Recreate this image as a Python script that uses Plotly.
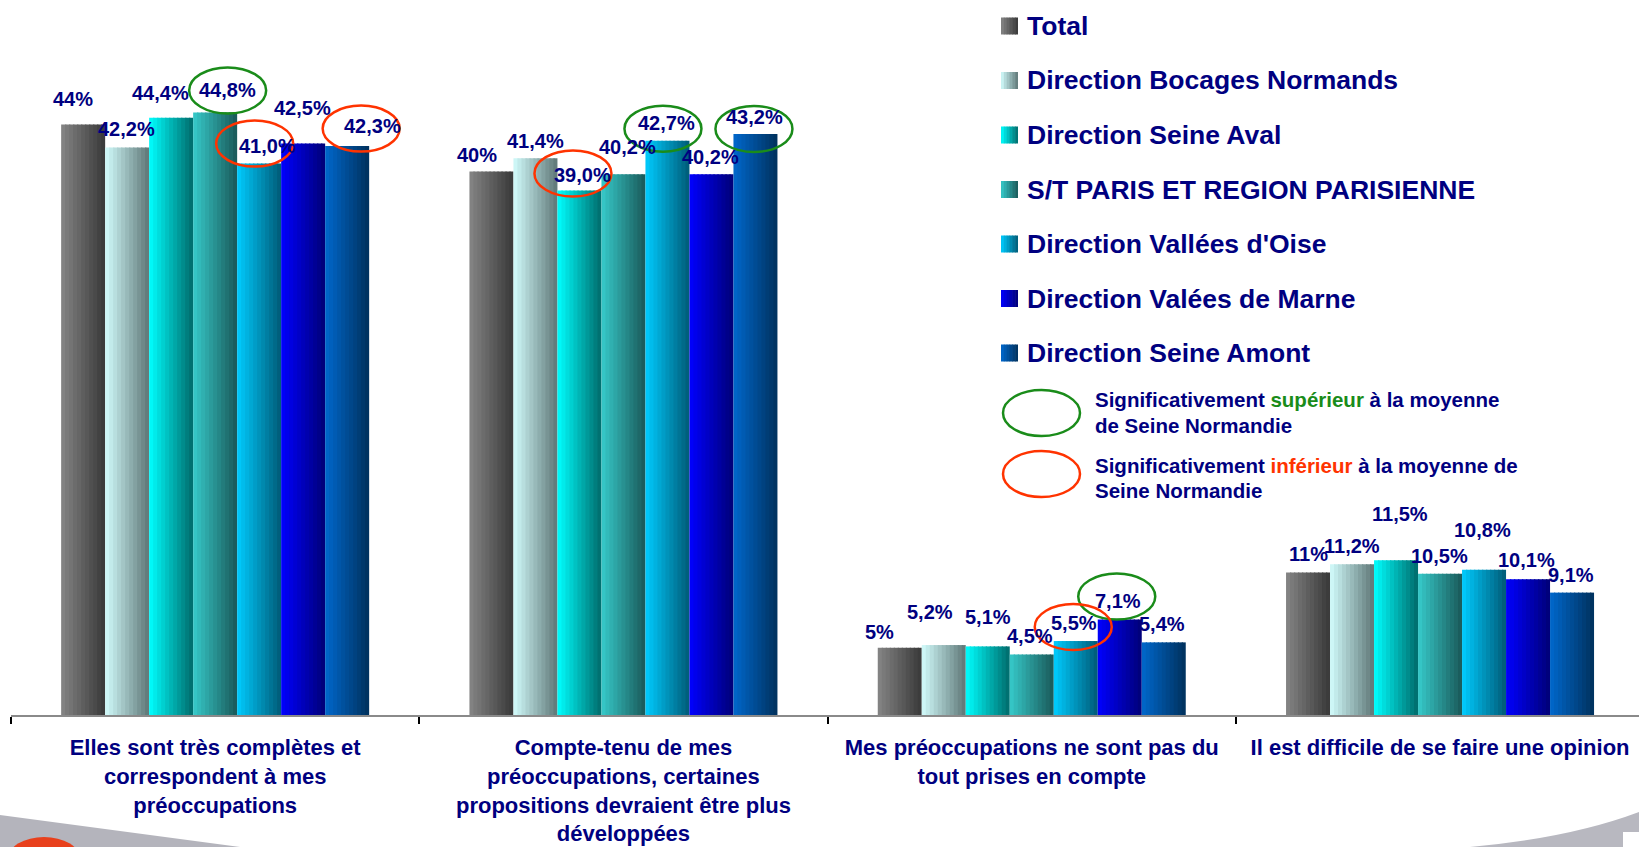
import plotly.graph_objects as go

# ---------------- data ----------------
CATEGORIES = [
    "Elles sont très complètes et<br>correspondent à mes<br>préoccupations",
    "Compte-tenu de mes<br>préoccupations, certaines<br>propositions devraient être plus<br>développées",
    "Mes préoccupations ne sont pas du<br>tout prises en compte",
    "Il est difficile de se faire une opinion",
]
SERIES_NAMES = [
    "Total",
    "Direction Bocages Normands",
    "Direction Seine Aval",
    "S/T PARIS ET REGION PARISIENNE",
    "Direction Vallées d'Oise",
    "Direction Valées de Marne",
    "Direction Seine Amont",
]
TOTAL = [43.9, 40.4, 5.0, 10.6]
BOCAGES = [42.2, 41.4, 5.2, 11.2]
SEINE_AVAL = [44.4, 39.0, 5.1, 11.5]
PARIS = [44.8, 40.2, 4.5, 10.5]
OISE = [41.0, 42.7, 5.5, 10.8]
MARNE = [42.5, 40.2, 7.1, 10.1]
AMONT = [42.3, 43.2, 5.4, 9.1]
SERIES_VALUES = [TOTAL, BOCAGES, SEINE_AVAL, PARIS, OISE, MARNE, AMONT]

# (category index, series index) flagged as significant
SUPERIEUR = [(0, 3), (1, 4), (1, 6), (2, 5)]
INFERIEUR = [(0, 4), (0, 6), (1, 2), (2, 4)]

# ---------------- style ----------------
NAVY = "#000080"
GREEN = "#1A8C1A"
RED = "#FF3300"
FONT = "Liberation Sans, Arial, sans-serif"
GRAD = [
    ("#858585", "#383838"),
    ("#D2FCFC", "#5E7676"),
    ("#00FFFF", "#006A6A"),
    ("#36CACA", "#1A5858"),
    ("#00CCFF", "#005A76"),
    ("#0000FF", "#000076"),
    ("#0068CC", "#00305C"),
]
# label offsets in pixels (dx, height above bar top)
LABEL_DX = [
    [-10.5, -14, -20, 0],
    [-0.5, 0, -13.5, 0],
    [-10.5, 3.5, 0, 4],
    [12.5, 4, -1.5, -1],
    [8, -1, -1.5, -1.5],
    [-0.5, -0.5, -1.3, -1.3],
    [25.5, -1, -1.5, -1.5],
]
LABEL_DY = [
    [26, 17, 16, 18],
    [18, 17.5, 33, 18.5],
    [25, 15, 29, 46.5],
    [22, 27, 18.5, 18],
    [18, 17.5, 18.5, 40],
    [35, 17.5, 18.5, 19],
    [20, 17, 18, 18],
]
SUP_OFFSETS = [(12.5, 22), (-4.5, 12), (-1.5, 5), (-3, 23)]
INF_OFFSETS = [(-4.5, 20), (14, 17.5), (-6.5, 17), (-2.5, 14)]
ELL_W, ELL_H = 77, 46

W, H = 1639, 847
ML, MR, MT, MB = 11, 0, 0, 132
PW, PH = W - ML - MR, H - MT - MB
CAT_PX = 408.3
BAR_PX = 44
BW = BAR_PX / CAT_PX
GROUP = BW * 7
YMAX = PH / 13.45
XMAX = -0.5 + PW / CAT_PX
NSTRIP = 11


def hex2rgb(h):
    h = h.lstrip("#")
    return tuple(int(h[i:i + 2], 16) for i in (0, 2, 4))


def mix(c1, c2, t):
    a, b = hex2rgb(c1), hex2rgb(c2)
    return "rgb(%d,%d,%d)" % tuple(round(a[j] + (b[j] - a[j]) * t) for j in range(3))


def px(xp):
    return (xp - ML) / PW


def py(yp):
    return (MT + PH - yp) / PH


def fmt(i, v):
    if i == 0:
        return f"{v:.0f}%"
    return f"{v:.1f}".replace(".", ",") + "%"


fig = go.Figure()
sw = BW / NSTRIP
for i, (name, vals) in enumerate(zip(SERIES_NAMES, SERIES_VALUES)):
    cl, cr = GRAD[i]
    for k in range(NSTRIP):
        eps = sw * 0.3 if k < NSTRIP - 1 else 0
        fig.add_trace(go.Bar(
            x=CATEGORIES, y=vals, name=name, legendgroup=name, showlegend=False,
            width=sw + eps, offset=-GROUP / 2 + i * BW + k * sw,
            marker=dict(color=mix(cl, cr, (k + 0.5) / NSTRIP), line=dict(width=0)),
            hovertemplate=name + ": %{y}%<extra></extra>",
        ))

annotations = []
shapes = []
for i, vals in enumerate(SERIES_VALUES):
    for c, v in enumerate(vals):
        annotations.append(dict(
            x=c - GROUP / 2 + (i + 0.5) * BW, y=v, xref="x", yref="y",
            text=fmt(i, v), showarrow=False, xanchor="center", yanchor="middle",
            xshift=LABEL_DX[i][c], yshift=LABEL_DY[i][c],
            font=dict(family=FONT, size=20, color=NAVY, weight="bold"),
        ))


def add_ellipse(c, i, off, color):
    dx, up = off
    shapes.append(dict(
        type="circle", xref="x", yref="y", xsizemode="pixel", ysizemode="pixel",
        xanchor=c - GROUP / 2 + (i + 0.5) * BW, yanchor=SERIES_VALUES[i][c],
        x0=dx - ELL_W / 2, x1=dx + ELL_W / 2, y0=up - ELL_H / 2, y1=up + ELL_H / 2,
        line=dict(color=color, width=2.5), layer="above",
    ))


for (c, i), off in zip(SUPERIEUR, SUP_OFFSETS):
    add_ellipse(c, i, off, GREEN)
for (c, i), off in zip(INFERIEUR, INF_OFFSETS):
    add_ellipse(c, i, off, RED)

# ---------------- legend (drawn manually) ----------------
LEG_X0, LEG_SQ, LEG_TX = 1001, 17, 1025
LEG_Y0, LEG_DY = 26, 54.5
for r, name in enumerate(SERIES_NAMES):
    yc = LEG_Y0 + r * LEG_DY
    cl, cr = GRAD[r]
    n = 6
    for k in range(n):
        x0 = LEG_X0 + k * LEG_SQ / n
        x1 = LEG_X0 + (k + 1) * LEG_SQ / n + (0.6 if k < n - 1 else 0)
        shapes.append(dict(
            type="rect", xref="paper", yref="paper",
            x0=px(x0), x1=px(x1), y0=py(yc + LEG_SQ / 2), y1=py(yc - LEG_SQ / 2),
            fillcolor=mix(cl, cr, (k + 0.5) / n), line=dict(width=0),
        ))
    annotations.append(dict(
        x=px(LEG_TX), y=py(yc), xref="paper", yref="paper", text=name,
        showarrow=False, xanchor="left", yanchor="middle",
        font=dict(family=FONT, size=26.5, color=NAVY, weight="bold"),
    ))

for yc, color in [(413, GREEN), (474, RED)]:
    shapes.append(dict(
        type="circle", xref="paper", yref="paper",
        x0=px(1041.5 - ELL_W / 2), x1=px(1041.5 + ELL_W / 2),
        y0=py(yc + ELL_H / 2), y1=py(yc - ELL_H / 2),
        line=dict(color=color, width=2.5),
    ))
SIG_LINES = [
    (400, f"Significativement <span style='color:{GREEN}'>supérieur</span> à la moyenne"),
    (425, "de Seine Normandie"),
    (465, f"Significativement <span style='color:{RED}'>inférieur</span> à la moyenne de"),
    (490, "Seine Normandie"),
]
for yc, txt in SIG_LINES:
    annotations.append(dict(
        x=px(1093), y=py(yc), xref="paper", yref="paper", text=txt,
        showarrow=False, xanchor="left", yanchor="middle",
        font=dict(family=FONT, size=20.5, color=NAVY, weight="bold"),
    ))

# ---------------- slide decoration ----------------
shapes.append(dict(
    type="path", xref="paper", yref="paper", layer="below",
    path=f"M {px(0)},{py(815)} L {px(240)},{py(847)} L {px(0)},{py(847)} Z",
    fillcolor="#B4B4BC", line=dict(width=0),
))
shapes.append(dict(
    type="circle", xref="paper", yref="paper", layer="below",
    x0=px(8), x1=px(80), y0=py(880), y1=py(837),
    fillcolor="#E8401C", line=dict(width=0),
))
shapes.append(dict(
    type="path", xref="paper", yref="paper", layer="below",
    path=(f"M {px(1470)},{py(847)} Q {px(1570)},{py(838)} {px(1639)},{py(812)} "
          f"L {px(1639)},{py(847)} Z"),
    fillcolor="#B8B8C0", line=dict(width=0),
))
shapes.append(dict(
    type="rect", xref="paper", yref="paper", layer="below",
    x0=px(1623), x1=px(1639), y0=py(847), y1=py(832),
    fillcolor="white", line=dict(width=0),
))

fig.update_layout(
    width=W, height=H,
    margin=dict(l=ML, r=MR, t=MT, b=MB, pad=0),
    paper_bgcolor="white", plot_bgcolor="white",
    barmode="overlay", showlegend=False,
    annotations=annotations, shapes=shapes,
    font=dict(family=FONT, color=NAVY),
    xaxis=dict(
        range=[-0.5, XMAX], showgrid=False, zeroline=False, automargin=False,
        showline=True, linecolor="#8A8A8A", linewidth=2,
        ticks="outside", tickson="boundaries", ticklen=7, tickwidth=2, tickcolor="black",
        tickfont=dict(family=FONT, size=22, color=NAVY, weight="bold"),
        ticklabelstandoff=12,
    ),
    yaxis=dict(range=[0, YMAX], visible=False, showgrid=False, zeroline=False,
               automargin=False),
)

fig.write_html(
    "out.html",
    config={"displayModeBar": False},
    post_script="document.body.style.margin='0';document.body.style.overflow='hidden';",
)
